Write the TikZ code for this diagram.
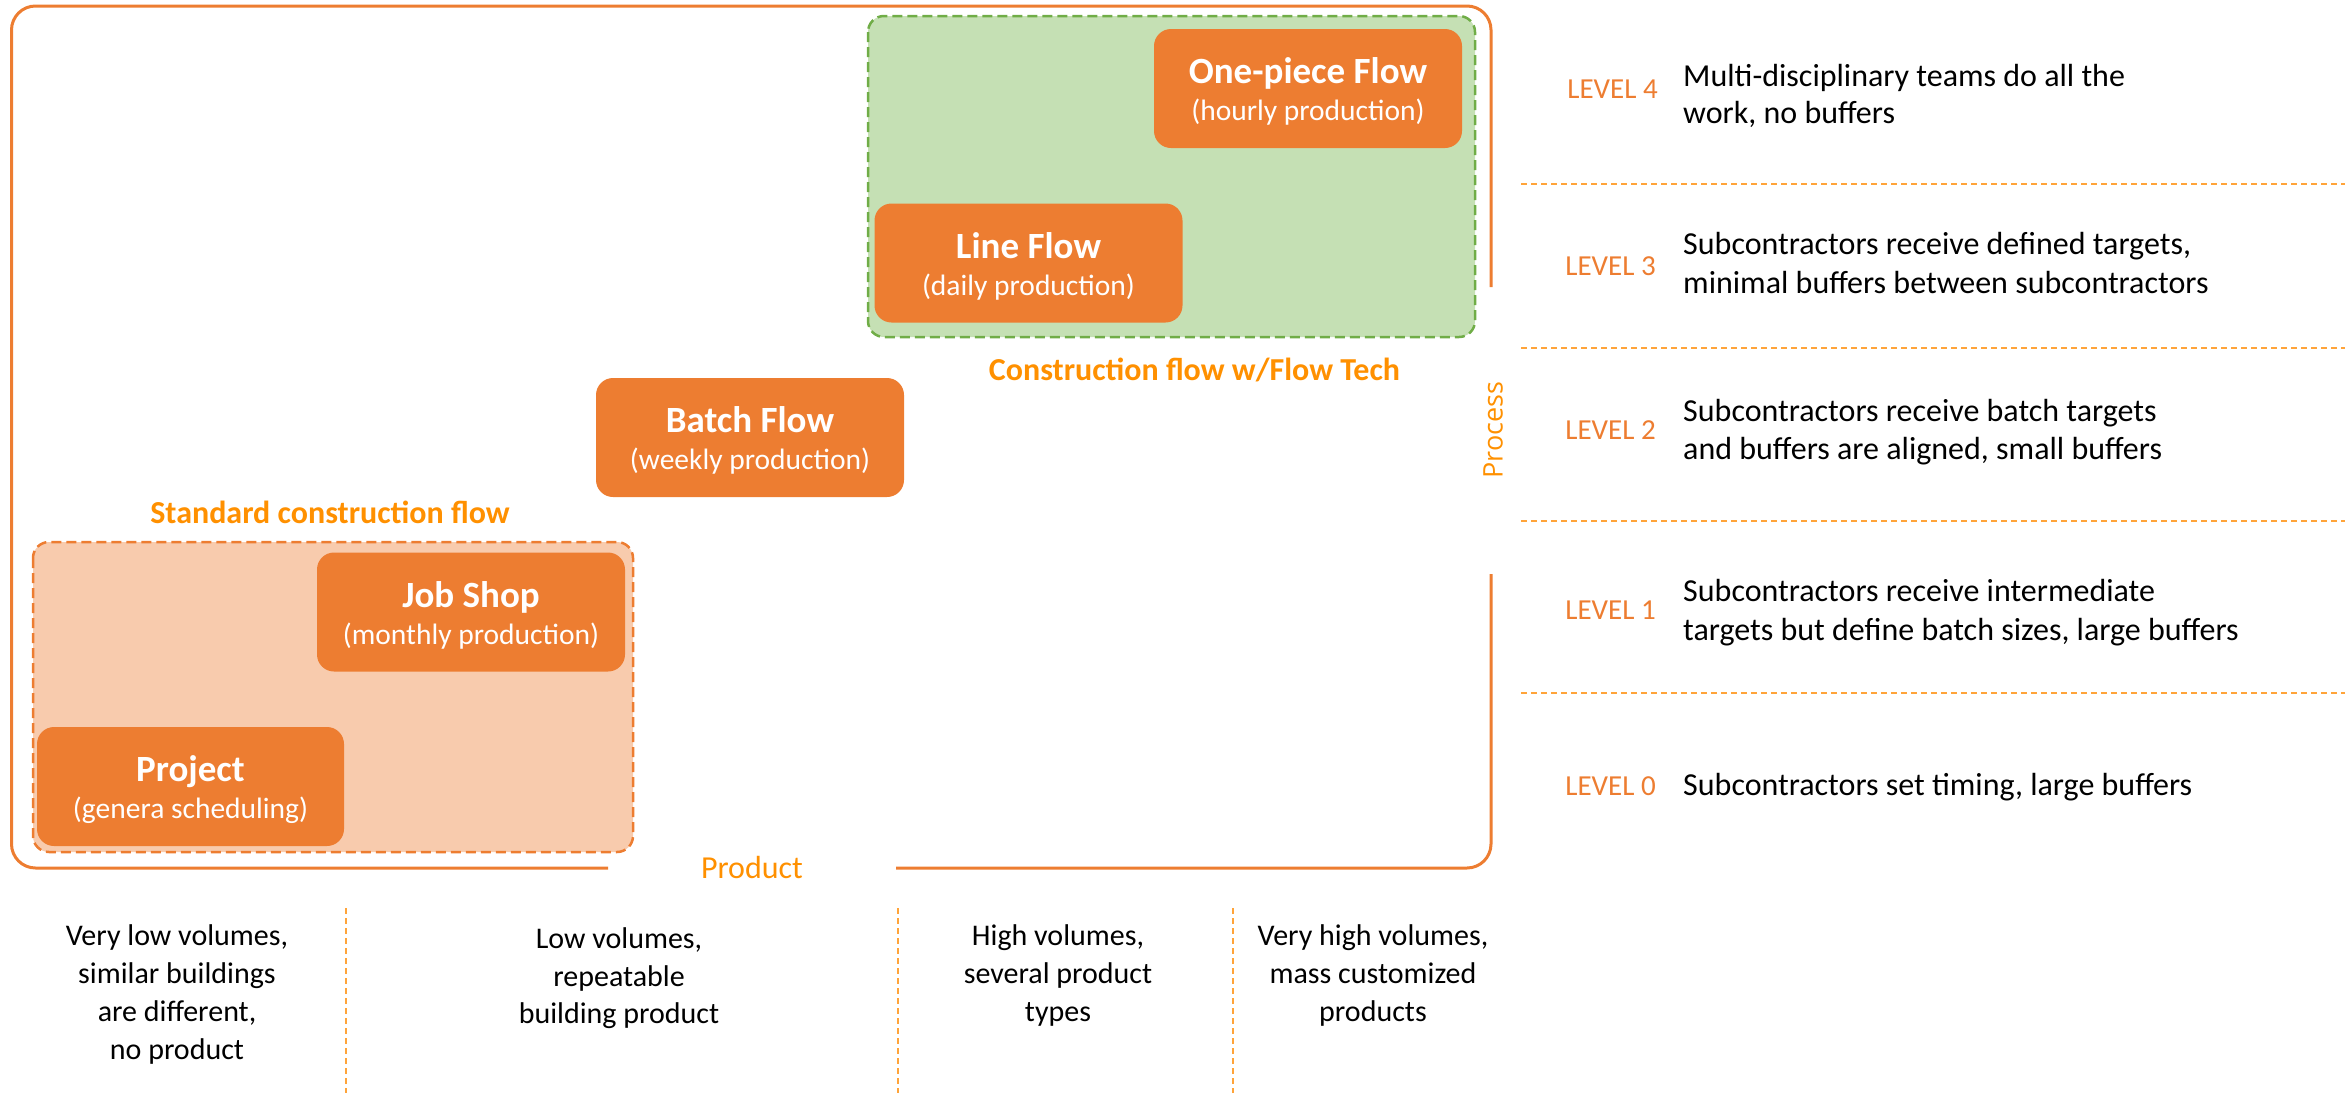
\documentclass[tikz,border=0pt]{standalone}
\usepackage{fontspec}
\setmainfont{Carlito}
\newfontfamily\procfont{Open Sans}
\definecolor{boxorange}{HTML}{ED7D31}
\definecolor{peach}{HTML}{F8CBAD}
\definecolor{greenfill}{HTML}{C5E0B4}
\definecolor{greenline}{HTML}{70AD47}
\definecolor{labelorange}{HTML}{FF9000}
\definecolor{ruleorange}{HTML}{FFA43A}
\tikzset{
  flowbox/.style={fill=boxorange, rounded corners=17pt, minimum width=308pt, minimum height=119pt, inner sep=0pt},
  boxtitle/.style={anchor=base, text=white, inner sep=0pt, font=\fontsize{37}{42}\selectfont\bfseries},
  boxsub/.style={anchor=base, text=white, inner sep=0pt, font=\fontsize{29.5}{34}\selectfont},
  grouplabel/.style={anchor=base, text=labelorange, inner sep=0pt, font=\fontsize{32}{36}\selectfont\bfseries},
  levellabel/.style={anchor=base east, text=boxorange, inner sep=0pt, font=\fontsize{29}{33}\selectfont},
  desc/.style={anchor=base west, inner sep=0pt, align=left, font=\fontsize{32}{38}\selectfont},
  coltext/.style={anchor=base, inner sep=0pt, align=center, font=\fontsize{30}{38}\selectfont},
  levelrule/.style={ruleorange, line width=1.8pt, dash pattern=on 6pt off 4pt},
  colrule/.style={ruleorange, line width=1.5pt, dash pattern=on 6pt off 4pt},
  frame/.style={boxorange, line width=3pt, rounded corners=24pt}
}
\begin{document}
\begin{tikzpicture}[x=1pt, y=-1pt]
\useasboundingbox (0,0) rectangle (2345,1093);

% group regions
\draw[fill=greenfill, draw=greenline, line width=2.5pt, dash pattern=on 10pt off 5pt, rounded corners=16pt] (868,16) rectangle (1475,337);
\draw[fill=peach, draw=boxorange, line width=2.5pt, dash pattern=on 10pt off 5pt, rounded corners=16pt] (33,542) rectangle (633,852);

% frame
\draw[frame] (1491,287) -- (1491,6) -- (11.5,6) -- (11.5,868) -- (608,868);
\draw[frame] (896,868) -- (1491,868) -- (1491,574);

% boxes
\node[flowbox] (op) at (1308,88.5) {};
\node[boxtitle, yshift=5pt] (opt) at (op.center) {One-piece Flow};
\node[boxsub, yshift=-32pt] (ops) at (op.center) {(hourly production)};

\node[flowbox] (lf) at (1028.5,263) {};
\node[boxtitle, yshift=5pt] (lft) at (lf.center) {Line Flow};
\node[boxsub, yshift=-32pt] (lfs) at (lf.center) {(daily production)};

\node[flowbox] (bf) at (750,437.5) {};
\node[boxtitle, yshift=5pt] (bft) at (bf.center) {Batch Flow};
\node[boxsub, yshift=-32pt] (bfs) at (bf.center) {(weekly production)};

\node[flowbox] (js) at (471,612) {};
\node[boxtitle, yshift=5pt] (jst) at (js.center) {Job Shop};
\node[boxsub, yshift=-32pt] (jss) at (js.center) {(monthly production)};

\node[flowbox, minimum width=307pt] (pr) at (190.5,786.5) {};
\node[boxtitle, yshift=5pt] (prt) at (pr.center) {Project};
\node[boxsub, yshift=-32pt] (prs) at (pr.center) {(genera scheduling)};

% group labels
\node[grouplabel] (std) at (330,523) {Standard construction flow};
\node[grouplabel] (cft) at (1194.5,380) {Construction flow w/Flow Tech};

% axis labels
\node[anchor=base, text=labelorange, inner sep=0pt, font=\fontsize{32}{36}\selectfont] (prod) at (752,878) {Product};
\node[rotate=90, text=labelorange, inner sep=0pt, font=\procfont\fontsize{27}{30}\selectfont] (proc) at (1493,430) {Process};

% level rules
\coordinate (r1a) at (1521,184); \coordinate (r1b) at (2345,184);
\coordinate (r2a) at (1521,348); \coordinate (r2b) at (2345,348);
\coordinate (r3a) at (1521,521); \coordinate (r3b) at (2345,521);
\coordinate (r4a) at (1521,693); \coordinate (r4b) at (2345,693);
\draw[levelrule] (r1a) -- (r1b);
\draw[levelrule] (r2a) -- (r2b);
\draw[levelrule] (r3a) -- (r3b);
\draw[levelrule] (r4a) -- (r4b);

% levels
\node[levellabel] (l4) at (1658,98) {LEVEL 4};
\node[levellabel] (l3) at (1656,275) {LEVEL 3};
\node[levellabel] (l2) at (1656,439) {LEVEL 2};
\node[levellabel] (l1) at (1656,619) {LEVEL 1};
\node[levellabel] (l0) at (1656,795) {LEVEL 0};

\node[desc] (d4a) at (1683,86) {Multi-disciplinary teams do all the};
\node[desc] (d4b) at (1683,123) {work, no buffers};
\node[desc] (d3a) at (1683,254) {Subcontractors receive defined targets,};
\node[desc] (d3b) at (1683,293) {minimal buffers between subcontractors};
\node[desc] (d2a) at (1683,421) {Subcontractors receive batch targets};
\node[desc] (d2b) at (1683,459) {and buffers are aligned, small buffers};
\node[desc] (d1a) at (1683,601) {Subcontractors receive intermediate};
\node[desc] (d1b) at (1683,640) {targets but define batch sizes, large buffers};
\node[desc] (d0a) at (1683,795) {Subcontractors set timing, large buffers};

% column rules
\coordinate (c1a) at (346,908); \coordinate (c1b) at (346,1093);
\coordinate (c2a) at (898,908); \coordinate (c2b) at (898,1093);
\coordinate (c3a) at (1233,908); \coordinate (c3b) at (1233,1093);
\draw[colrule] (c1a) -- (c1b);
\draw[colrule] (c2a) -- (c2b);
\draw[colrule] (c3a) -- (c3b);

% column texts
\node[coltext] (k1a) at (177,945) {Very low volumes,};
\node[coltext] (k1b) at (177,983) {similar buildings};
\node[coltext] (k1c) at (177,1021) {are different,};
\node[coltext] (k1d) at (177,1059) {no product};
\node[coltext] (k2a) at (619,948) {Low volumes,};
\node[coltext] (k2b) at (619,986) {repeatable};
\node[coltext] (k2c) at (619,1023) {building product};
\node[coltext] (k3a) at (1058,945) {High volumes,};
\node[coltext] (k3b) at (1058,983) {several product};
\node[coltext] (k3c) at (1058,1021) {types};
\node[coltext] (k4a) at (1373,945) {Very high volumes,};
\node[coltext] (k4b) at (1373,983) {mass customized};
\node[coltext] (k4c) at (1373,1021) {products};
\end{tikzpicture}
\end{document}
